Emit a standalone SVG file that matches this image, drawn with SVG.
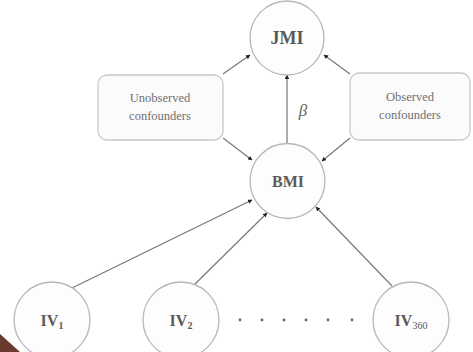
<svg xmlns="http://www.w3.org/2000/svg" width="473" height="352" viewBox="0 0 473 352">
<defs>
<style>
.node circle{fill:#fdfdfd;stroke:#b8b8b8;stroke-width:1.3}
.box rect{fill:#fbfbfb;stroke:#c8c8c8;stroke-width:1.3}
.lbl{font-family:"Liberation Serif",serif;fill:#5a5a5a;text-anchor:middle;font-weight:bold}
.small{font-family:"Liberation Serif",serif;fill:#707070;text-anchor:middle;font-size:12.5px}
.edge{stroke:#777;stroke-width:1.2;fill:none;marker-end:url(#ah)}
.dot{fill:#666}
</style>
<marker id="ah" viewBox="0 0 10 10" refX="9" refY="5" markerWidth="4.5" markerHeight="4.5" orient="auto" markerUnits="userSpaceOnUse">
<path d="M0,0 L10,5 L0,10 z" fill="#222"/>
</marker>
</defs>
<rect width="473" height="352" fill="#ffffff"/>
<polygon points="0,334 20,352 0,352" fill="#6b3a2e"/>
<g id="connectors">
<line class="edge" x1="287" y1="143" x2="287" y2="75"/>
<line class="edge" x1="223" y1="74" x2="250" y2="55"/>
<line class="edge" x1="223" y1="138" x2="252" y2="160"/>
<line class="edge" x1="350" y1="74" x2="324" y2="55"/>
<line class="edge" x1="350" y1="138" x2="322" y2="161"/>
<line class="edge" x1="72" y1="288" x2="252" y2="200"/>
<line class="edge" x1="193" y1="286" x2="267" y2="213"/>
<line class="edge" x1="392" y1="286" x2="316" y2="207"/>
</g>
<g id="JMI" class="node"><circle cx="287" cy="38" r="37"/><text class="lbl" x="287" y="44" font-size="18">JMI</text></g>
<g id="BMI" class="node"><circle cx="287.5" cy="181" r="37.5"/><text class="lbl" x="288" y="187" font-size="16">BMI</text></g>
<g id="unobserved" class="box"><rect x="98" y="75" width="125" height="65" rx="9"/><text class="small" x="160" y="102">Unobserved</text><text class="small" x="160" y="120">confounders</text></g>
<g id="observed" class="box"><rect x="350" y="73" width="120" height="67" rx="9"/><text class="small" x="410" y="101">Observed</text><text class="small" x="410" y="119">confounders</text></g>
<text x="303" y="116" font-family="Liberation Serif,serif" font-style="italic" font-size="17" fill="#666" text-anchor="middle">β</text>
<g id="IV1" class="node"><circle cx="52" cy="320" r="38"/><text class="lbl" x="52" y="326" font-size="16">IV<tspan font-size="10" dy="3">1</tspan></text></g>
<g id="IV2" class="node"><circle cx="181" cy="320" r="38"/><text class="lbl" x="181" y="326" font-size="16">IV<tspan font-size="10" dy="3">2</tspan></text></g>
<g id="IV360" class="node"><circle cx="411" cy="320" r="38"/><text class="lbl" x="411" y="326" font-size="16">IV<tspan font-size="10" dy="3" font-weight="normal">360</tspan></text></g>
<g id="dots">
<circle class="dot" cx="240" cy="320" r="1.4"/><circle class="dot" cx="262" cy="320" r="1.4"/><circle class="dot" cx="284" cy="320" r="1.4"/><circle class="dot" cx="306" cy="320" r="1.4"/><circle class="dot" cx="328" cy="320" r="1.4"/><circle class="dot" cx="352" cy="320" r="1.4"/>
</g>
</svg>
